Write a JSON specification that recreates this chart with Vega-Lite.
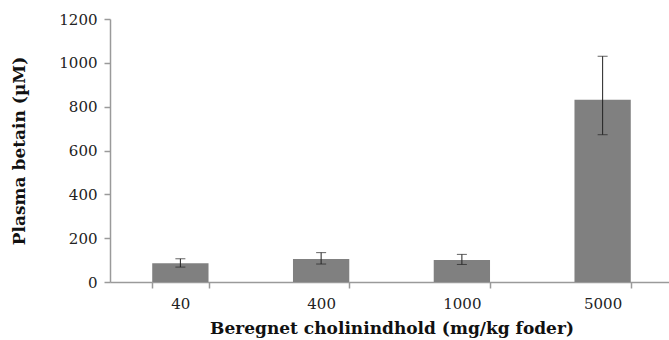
{
  "$schema": "https://vega.github.io/schema/vega-lite/v6.json",
  "autosize": {"type": "none"},
  "width": 559,
  "height": 263,
  "padding": {"left": 110, "top": 19, "right": 0, "bottom": 58},
  "background": "white",
  "config": {
    "view": {"stroke": null},
    "font": "DejaVu Serif",
    "axis": {
      "domainColor": "#9a9a9a",
      "domainWidth": 1.5,
      "tickColor": "#9a9a9a",
      "tickWidth": 1.5,
      "tickSize": 6,
      "grid": false,
      "labelFont": "DejaVu Serif",
      "labelFontSize": 15,
      "labelColor": "#222222",
      "titleFont": "DejaVu Serif",
      "titleFontSize": 17,
      "titleFontWeight": "bold",
      "titleColor": "#111111"
    }
  },
  "data": {
    "values": [
      {"cholin": "40", "betain": 85, "lo": 68, "hi": 106},
      {"cholin": "400", "betain": 105, "lo": 82, "hi": 134},
      {"cholin": "1000", "betain": 100, "lo": 80, "hi": 126},
      {"cholin": "5000", "betain": 832, "lo": 672, "hi": 1030}
    ]
  },
  "encoding": {
    "x": {
      "field": "cholin",
      "type": "nominal",
      "sort": null,
      "scale": {"paddingInner": 0.6, "paddingOuter": 0.3, "range": [0, 563]},
      "axis": {
        "title": "Beregnet cholinindhold (mg/kg foder)",
        "labelAngle": 0,
        "tickBand": "extent",
        "labelPadding": 8,
        "titlePadding": 9
      }
    }
  },
  "layer": [
    {
      "mark": {"type": "bar", "color": "#808080"},
      "encoding": {
        "y": {
          "field": "betain",
          "type": "quantitative",
          "scale": {"domain": [0, 1200], "nice": false},
          "axis": {
            "title": "Plasma betain (µM)",
            "format": "d",
            "values": [0, 200, 400, 600, 800, 1000, 1200],
            "labelPadding": 7,
            "titlePadding": 30
          }
        }
      }
    },
    {
      "mark": {"type": "rule", "color": "#222222", "strokeWidth": 1},
      "encoding": {
        "y": {"field": "lo", "type": "quantitative"},
        "y2": {"field": "hi"}
      }
    },
    {
      "mark": {"type": "tick", "color": "#222222", "thickness": 1, "size": 10, "orient": "horizontal"},
      "encoding": {"y": {"field": "lo", "type": "quantitative"}}
    },
    {
      "mark": {"type": "tick", "color": "#222222", "thickness": 1, "size": 10, "orient": "horizontal"},
      "encoding": {"y": {"field": "hi", "type": "quantitative"}}
    }
  ]
}
